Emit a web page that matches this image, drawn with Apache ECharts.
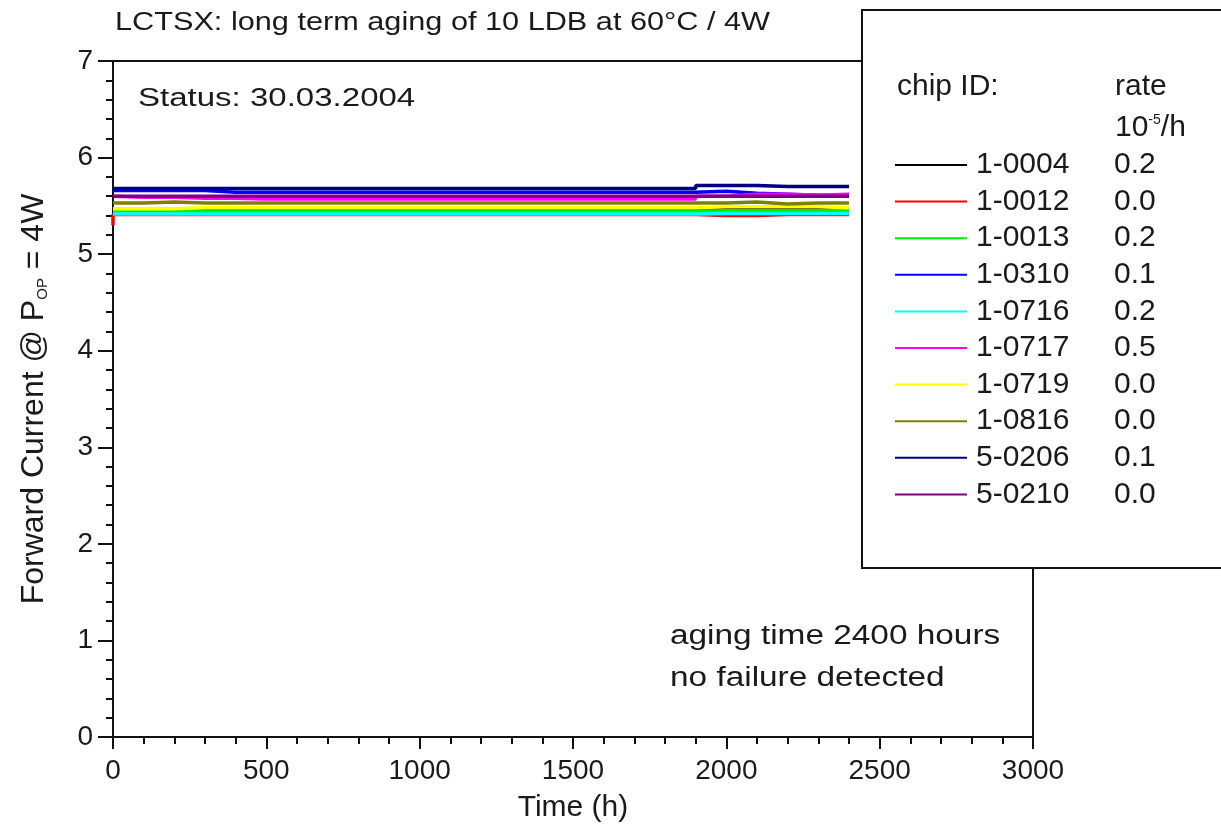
<!DOCTYPE html>
<html><head><meta charset="utf-8">
<script src="https://cdn.jsdelivr.net/npm/echarts@6/dist/echarts.min.js"></script>
<style>html,body{margin:0;padding:0;background:#fff}#c{width:1221px;height:828px}</style>
</head><body><div id="c"></div>
<script>
const hours = [0,100,200,300,400,500,600,700,800,900,1000,1100,1200,1300,1400,1500,1600,1700,1800,1900,2000,2100,2200,2300,2400];
const chipIds = ['1-0004','1-0012','1-0013','1-0310','1-0716','1-0717','1-0719','1-0816','5-0206','5-0210'];
const rates = ['0.2','0.0','0.2','0.1','0.2','0.5','0.0','0.0','0.1','0.0'];
const colors = ['#000000','#ff0000','#00ee00','#0000ff','#00ffff','#ff00ff','#ffff00','#808000','#000080','#800080'];
const v_1_0004 = [5.46,5.46,5.46,5.46,5.47,5.47,5.47,5.47,5.47,5.47,5.47,5.47,5.47,5.47,5.47,5.47,5.47,5.47,5.47,5.47,5.47,5.47,5.47,5.46,5.46];
const v_1_0012 = [5.30,5.41,5.41,5.41,5.41,5.41,5.41,5.41,5.41,5.41,5.41,5.41,5.41,5.41,5.41,5.41,5.41,5.41,5.41,5.41,5.40,5.40,5.41,5.41,5.41];
const v_1_0013 = [5.45,5.45,5.45,5.445,5.445,5.445,5.445,5.445,5.445,5.445,5.445,5.445,5.445,5.445,5.445,5.445,5.445,5.445,5.445,5.445,5.45,5.45,5.45,5.45,5.45];
const v_1_0310 = [5.66,5.66,5.66,5.66,5.64,5.64,5.64,5.64,5.64,5.64,5.64,5.64,5.64,5.64,5.64,5.64,5.64,5.64,5.64,5.64,5.65,5.63,5.62,5.61,5.61];
const v_1_0716 = [5.415,5.415,5.415,5.415,5.415,5.415,5.415,5.415,5.415,5.415,5.415,5.415,5.415,5.415,5.415,5.415,5.415,5.415,5.415,5.415,5.42,5.42,5.42,5.42,5.42];
const v_1_0717 = [5.60,5.59,5.59,5.58,5.58,5.57,5.57,5.57,5.57,5.57,5.57,5.57,5.57,5.57,5.57,5.57,5.57,5.57,5.57,5.57,5.60,5.62,5.62,5.61,5.62];
const v_1_0719 = [5.47,5.47,5.47,5.48,5.48,5.48,5.48,5.48,5.48,5.48,5.48,5.48,5.48,5.48,5.48,5.48,5.48,5.48,5.48,5.48,5.49,5.49,5.49,5.49,5.48];
const v_1_0816 = [5.53,5.53,5.54,5.53,5.53,5.53,5.53,5.53,5.53,5.53,5.53,5.53,5.53,5.53,5.53,5.53,5.53,5.53,5.53,5.53,5.53,5.54,5.52,5.53,5.53];
const v_5_0206 = [5.68,5.68,5.68,5.68,5.68,5.68,5.68,5.68,5.68,5.68,5.68,5.68,5.68,5.68,5.68,5.68,5.68,5.68,5.68,5.68,5.71,5.71,5.70,5.70,5.70];
const v_5_0210 = [5.60,5.60,5.60,5.60,5.60,5.60,5.60,5.60,5.60,5.60,5.60,5.60,5.60,5.60,5.60,5.60,5.60,5.60,5.60,5.60,5.60,5.60,5.60,5.60,5.60];
const seriesValues = [v_1_0004,v_1_0012,v_1_0013,v_1_0310,v_1_0716,v_1_0717,v_1_0719,v_1_0816,v_5_0206,v_5_0210];

const FONT = 'Liberation Sans';
const TXT = '#1a1a1a';
const rateOf = {}; chipIds.forEach((id,i)=>rateOf[id]=rates[i]);

function txt(x, y, text, size, sx, extra) {
  return Object.assign({type:'text',z:11,x:x,y:y,scaleX:sx,originX:0,originY:0,
    style:Object.assign({text:text,fontSize:size,fill:TXT,fontFamily:FONT,verticalAlign:'middle',align:'left'}, extra||{})});
}

const chart = echarts.init(document.getElementById('c'), null, {renderer:'canvas'});
chart.setOption({
  animation:false,
  backgroundColor:'#fff',
  textStyle:{fontFamily:FONT},
  grid:{left:113,right:188,top:61,bottom:91,show:true,borderColor:'#111',borderWidth:2,backgroundColor:'transparent'},
  xAxis:{type:'value',min:0,max:3000,interval:500,
    name:'Time (h)',nameLocation:'middle',nameGap:56,nameTextStyle:{fontSize:30,color:TXT,fontFamily:FONT},
    axisLine:{lineStyle:{color:'#111',width:2}},
    axisTick:{show:true,inside:false,length:12,lineStyle:{color:'#111',width:2}},
    minorTick:{show:true,splitNumber:5,length:7,lineStyle:{color:'#111',width:2}},
    splitLine:{show:false},
    axisLabel:{fontSize:28,color:TXT,margin:20,fontFamily:FONT,formatter:(v)=>String(v)}},
  yAxis:{type:'value',min:0,max:7,interval:1,
    name:'Forward Current @ P{sub|OP} = 4W',nameLocation:'middle',nameGap:63,nameRotate:90,
    nameTextStyle:{fontSize:32,color:TXT,fontFamily:FONT,rich:{sub:{fontSize:15,color:TXT,fontFamily:FONT,verticalAlign:'bottom',padding:[15,0,0,0]}}},
    axisLine:{lineStyle:{color:'#111',width:2}},
    axisTick:{show:true,inside:false,length:15,lineStyle:{color:'#111',width:2}},
    minorTick:{show:true,splitNumber:5,length:7,lineStyle:{color:'#111',width:2}},
    splitLine:{show:false},
    axisLabel:{fontSize:28,color:TXT,margin:20,fontFamily:FONT}},
  legend:{orient:'vertical',left:890,top:145,z:10,icon:'rect',itemWidth:72,itemHeight:2,itemGap:6.6,
    data:chipIds,selectedMode:false,
    formatter:(name)=>'{id|'+name+'}{rate|'+rateOf[name]+'}',
    textStyle:{fontFamily:FONT,fontSize:30,color:TXT,
      rich:{id:{width:138,fontSize:30,lineHeight:30,color:TXT,fontFamily:FONT,padding:[0,0,0,4]},
            rate:{fontSize:30,lineHeight:30,color:TXT,fontFamily:FONT}}}},
  graphic:[
    {type:'rect',z:5,shape:{x:862,y:10,width:400,height:558},style:{fill:'#fff',stroke:'#111',lineWidth:2}},
    txt(897,87,'chip ID:',30,1),
    txt(1115,87,'rate',30,1),
    txt(1115,128,'{a|10}{s|-5}{a|/h}',30,1,{rich:{a:{fontSize:30,fill:TXT,fontFamily:FONT},s:{fontSize:14,fill:TXT,fontFamily:FONT,verticalAlign:'top',padding:[0,0,16,0]}}}),
    txt(115,23,'LCTSX: long term aging of 10 LDB at 60°C / 4W',25,1.227),
    txt(138,99,'Status: 30.03.2004',26,1.27),
    txt(670,637,'aging time 2400 hours',27,1.236),
    txt(670,679,'no failure detected',27,1.236)
  ],
  series: chipIds.map((id,i)=>({
    name:id,type:'line',step:'start',showSymbol:false,symbol:'none',
    data: hours.map((h,k)=>[h,seriesValues[i][k]]),
    lineStyle:{color:colors[i],width:3.5},itemStyle:{color:colors[i]},z:2
  }))
});
</script></body></html>
